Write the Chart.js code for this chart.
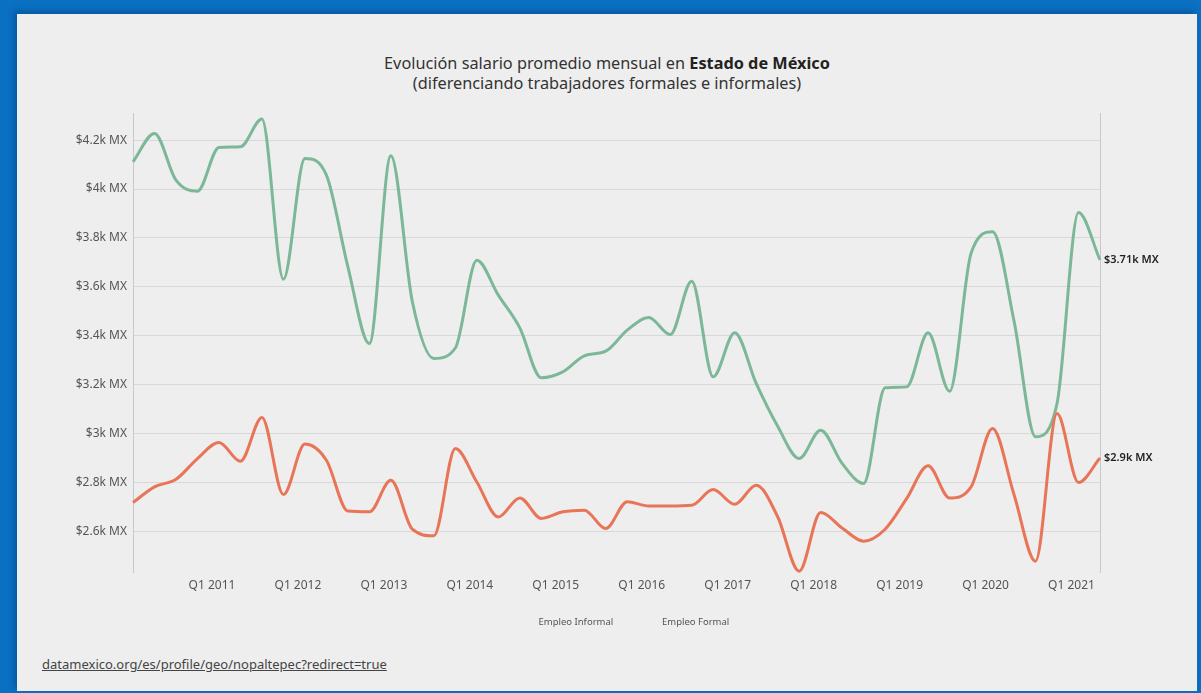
<!DOCTYPE html>
<html>
<head>
<meta charset="utf-8">
<script src="https://cdn.jsdelivr.net/npm/chart.js@4"></script>
<style>
  body{margin:0;width:1201px;height:693px;background:#0a70c2;position:relative;overflow:hidden;font-family:"Noto Sans",sans-serif;}
  #panel{position:absolute;left:17px;top:14px;width:1180px;height:677px;background:#eeeeee;box-shadow:-3px -3px 6px rgba(0,40,90,0.35);}
  #title{position:absolute;left:0;top:39px;width:1180px;text-align:center;font-size:16.3px;line-height:20px;color:#333;}
  #title b{color:#222;}
  #box{position:absolute;left:3px;top:86px;width:1160px;height:537px;}
  #src{position:absolute;left:25px;top:641px;font-size:13px;color:#444;text-decoration:underline;}
</style>
</head>
<body>
<div id="panel">
  <div id="title">Evolución salario promedio mensual en <b>Estado de México</b><br>(diferenciando trabajadores formales e informales)</div>
  <div id="box"><canvas id="chart-canvas"></canvas></div>
  <a id="src">datamexico.org/es/profile/geo/nopaltepec?redirect=true</a>
</div>
<script>
const quarters = ["Q1 2010","Q2 2010","Q3 2010","Q4 2010","Q1 2011","Q2 2011","Q3 2011","Q4 2011",
  "Q1 2012","Q2 2012","Q3 2012","Q4 2012","Q1 2013","Q2 2013","Q3 2013","Q4 2013",
  "Q1 2014","Q2 2014","Q3 2014","Q4 2014","Q1 2015","Q2 2015","Q3 2015","Q4 2015",
  "Q1 2016","Q2 2016","Q3 2016","Q4 2016","Q1 2017","Q2 2017","Q3 2017","Q4 2017",
  "Q1 2018","Q2 2018","Q3 2018","Q4 2018","Q1 2019","Q2 2019","Q3 2019","Q4 2019",
  "Q1 2020","Q2 2020","Q3 2020","Q4 2020","Q1 2021","Q2 2021"];

const informal = [2718,2782,2813,2898,2964,2887,3066,2751,2957,2891,
  2683,2680,2809,2609,2582,2939,2802,2659,2737,2653,
  2680,2687,2612,2721,2704,2704,2707,2771,2711,2789,
  2660,2437,2677,2614,2560,2609,2734,2868,2737,2782,
  3021,2750,2478,3082,2800,2900];

const formal = [4111,4227,4036,3991,4170,4173,4286,3631,4125,4057,
  3682,3368,4136,3539,3307,3350,3709,3566,3432,3228,
  3252,3318,3337,3423,3475,3405,3623,3232,3412,3205,
  3030,2898,3014,2878,2796,3187,3191,3412,3173,3737,
  3825,3460,2987,3123,3904,3710];

const yTicks = [2600,2800,3000,3200,3400,3600,3800,4000,4200];

const seriesNames = ["Empleo Informal","Empleo Formal"];
const colors = ["rgb(232,117,87)","rgb(124,184,152)"];

function money(v){
    let k = (v/1000).toFixed(2).replace(/\.?0+$/,'');
    return '$' + k + 'k MX';
}

// etiqueta al final de cada linea
const endLabels = {
    id:'endLabels',
    afterDatasetsDraw(chart){
        let ctx = chart.ctx;
        ctx.save();
        ctx.font = '600 11px "Noto Sans"';
        ctx.fillStyle = '#222';
        ctx.textBaseline = 'middle';
        chart.data.datasets.forEach((ds,i)=>{
            let meta = chart.getDatasetMeta(i);
            let pt = meta.data[meta.data.length-1];
            ctx.fillText(money(ds.data[ds.data.length-1]), pt.x+4, pt.y);
        })
        ctx.restore();
    }
};

let ctx = document.getElementById('chart-canvas').getContext('2d');
Chart.defaults.font.family = '"Noto Sans", sans-serif';

let chart = new Chart(ctx, {
    type:'line',
    data:{
        labels: quarters,
        datasets:[{
            label: seriesNames[0],
            data: informal,
            borderColor: colors[0],
            borderWidth: 3,
            pointRadius: 0,
            cubicInterpolationMode: 'monotone',
            clip: false
        },{
            label: seriesNames[1],
            data: formal,
            borderColor: colors[1],
            borderWidth: 3,
            pointRadius: 0,
            cubicInterpolationMode: 'monotone',
            clip: false
        }]
    },
    options:{
        responsive:true,
        maintainAspectRatio:false,
        animation:false,
        layout:{padding:{top:13,bottom:0}},
        plugins:{
            legend:{
                position:'bottom',
                fullSize:false,
                labels:{
                    boxWidth:30,
                    padding:14,
                    color:'#555',
                    font:{size:9.5},
                    generateLabels:(c)=> c.data.datasets.map((d,i)=>({
                        text:d.label, fillStyle:'transparent', strokeStyle:'transparent',
                        lineWidth:0, datasetIndex:i, fontColor:'#555'
                    }))
                }
            },
            tooltip:{enabled:false}
        },
        scales:{
            x:{
                grid:{display:false},
                border:{display:false},
                ticks:{
                    autoSkip:false, maxRotation:0, color:'#555', font:{size:12},
                    padding:-2, labelOffset:-7,
                    callback:function(v,i){
                        let l = quarters[i];
                        return (i>0 && l.startsWith('Q1')) ? l : '';
                    }
                },
                afterFit:(s)=>{ s.height = 31; }
            },
            y:{
                min:2432, max:4310,
                grid:{color:'#d8d8d8', drawTicks:false},
                border:{color:'#c8c8c8'},
                ticks:{color:'#555', font:{size:12}, padding:6, callback:(v)=>money(v)},
                afterBuildTicks:(s)=>{ s.ticks = yTicks.map(v=>({value:v})); },
                afterFit:(s)=>{ s.width = 113; }
            },
            y2:{
                position:'right',
                min:2432, max:4310,
                grid:{drawOnChartArea:false, drawTicks:false},
                border:{color:'#c8c8c8'},
                ticks:{display:false},
                afterFit:(s)=>{ s.width = 80; }
            }
        }
    },
    plugins:[endLabels]
});
</script>
</body>
</html>
